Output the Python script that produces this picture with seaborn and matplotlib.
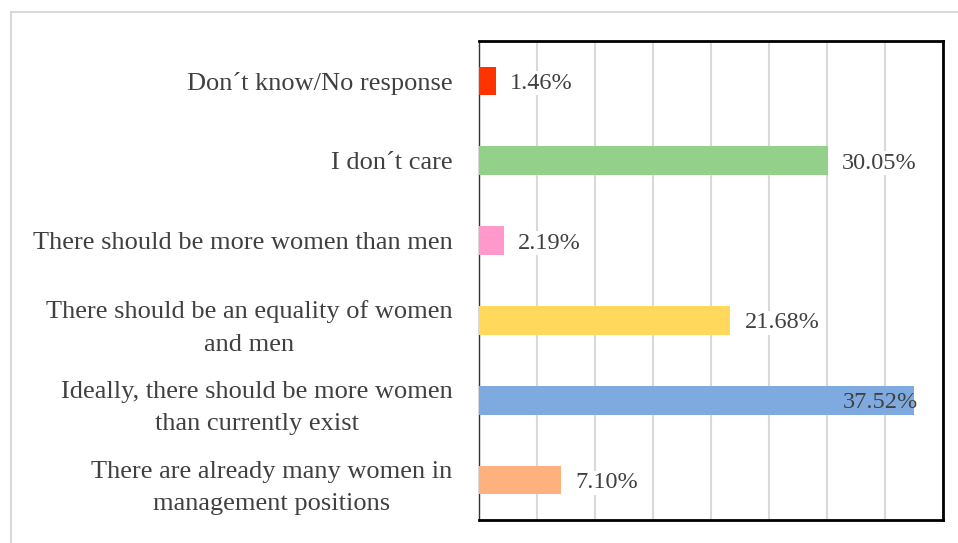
import matplotlib
matplotlib.use("Agg")
import matplotlib.pyplot as plt
import seaborn as sns
import pandas as pd
from matplotlib.patches import Rectangle

categories = [
    "Don\u00b4t know/No response",
    "I don\u00b4t care",
    "There should be more women than men",
    "There should be an equality of women\nand men",
    "Ideally, there should be more women\nthan currently exist",
    "There are already many women in\nmanagement positions",
]
values = [1.46, 30.05, 2.19, 21.68, 37.52, 7.10]
value_labels = ["1.46%", "30.05%", "2.19%", "21.68%", "37.52%", "7.10%"]
colors = ["#FF3300", "#93D08A", "#FF99CC", "#FFD85C", "#7FAADF", "#FFB07F"]

sns.set_theme(style="white")
plt.rcParams["font.family"] = ["Liberation Serif", "DejaVu Serif"]

df = pd.DataFrame({"cat": categories, "val": values})

fig = plt.figure(figsize=(9.58, 5.43), dpi=100)
ax = fig.add_axes([0.5, 0.0424, 0.4843, 0.8821])

sns.barplot(data=df, y="cat", x="val", hue="cat", palette=colors,
            orient="h", width=0.36, legend=False, ax=ax, zorder=3,
            saturation=1, linewidth=0)

ax.set_xlim(0, 40)
ax.set_ylim(5.5, -0.5)
ax.set_xticks(range(0, 41, 5))
ax.set_xticklabels([])
ax.tick_params(axis="both", length=0)
ax.grid(axis="x", color="#D9D9D9", linewidth=1.5, zorder=0)
ax.set_axisbelow(True)
ax.set_xlabel("")
ax.set_ylabel("")

for lbl in ax.get_yticklabels():
    lbl.set_fontsize(19)
    lbl.set_color("#404040")
    lbl.set_multialignment("center")
    lbl.set_linespacing(1.6)
ax.tick_params(axis="y", pad=19)

for s in ["top", "right", "bottom"]:
    ax.spines[s].set_color("black")
    ax.spines[s].set_linewidth(2)
ax.spines["left"].set_color("#333333")
ax.spines["left"].set_linewidth(1)

for i, (v, t) in enumerate(zip(values, value_labels)):
    if v > 35:
        ax.text(v + 0.35, i, t, ha="right", va="center_baseline", fontsize=17.5,
                color="#404040", zorder=5)
    else:
        ax.text(v + 1.2, i, t, ha="left", va="center_baseline", fontsize=17.5,
                color="#404040", zorder=5,
                bbox=dict(facecolor="white", edgecolor="none", pad=1))

fig.patches.append(Rectangle((0.0115, -0.05), 1.05, 1.028,
                             transform=fig.transFigure, fill=False,
                             edgecolor="#D9D9D9", linewidth=1.5))

fig.savefig("out.png", dpi=100, facecolor="white")
